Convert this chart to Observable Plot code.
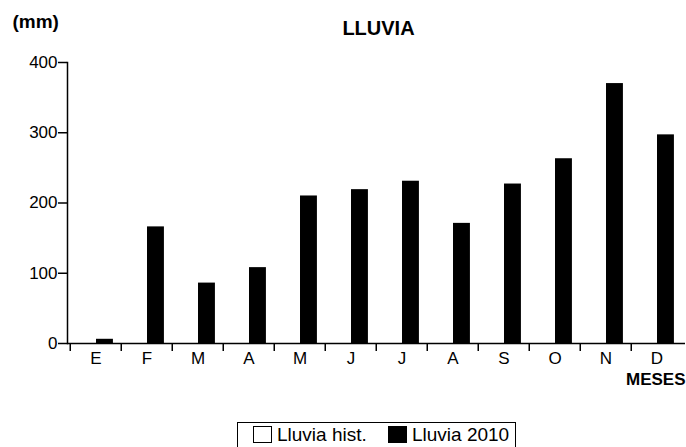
<!DOCTYPE html>
<html>
<head>
<meta charset="utf-8">
<script src="https://cdn.jsdelivr.net/npm/d3@7"></script>
<script src="https://cdn.jsdelivr.net/npm/@observablehq/plot@0.6"></script>
<style>
  html, body { margin: 0; padding: 0; background: #fff; }
  #wrap { position: relative; width: 686px; height: 447px; overflow: hidden; font-family: "Liberation Sans", Arial, sans-serif; }
  #legend { position: absolute; left: 237px; top: 422px; width: 279px; height: 40px; border: 1.5px solid #000; box-sizing: border-box; font-size: 19px; color: #000; }
  .item { position: absolute; top: 2px; white-space: nowrap; line-height: 20px; }
  .sw { display: inline-block; width: 19px; height: 17px; border: 1.3px solid #000; box-sizing: border-box; margin-right: 5px; vertical-align: -2px; }
</style>
</head>
<body>
<div id="wrap"><div id="chart"></div><div id="legend"></div></div>
<script>
const months = ["E","F","M","A","M ","J","J ","A ","S","O","N","D"];
const monthLabels = ["E","F","M","A","M","J","J","A","S","O","N","D"];
const series = ["Lluvia hist.", "Lluvia 2010"];
const seriesColors = ["#ffffff", "#000000"];
const lluviaHist = []; // no historical bars drawn in the reference
const lluvia2010 = [6, 166, 86, 108, 210, 219, 231, 171, 227, 263, 370, 297];
const yTicks = [0, 100, 200, 300, 400];

const W = 686, H = 400, ML = 67, MR = 1, MT = 62, MB = 57;
const band = (W - ML - MR) / months.length;

const data2010 = months.map((m, i) => ({month: m, value: lluvia2010[i], series: series[1]}));

const chart = Plot.plot({
  width: W, height: H,
  marginLeft: ML, marginRight: MR, marginTop: MT, marginBottom: MB,
  style: {fontFamily: "'Liberation Sans', Arial, sans-serif", fontSize: "17px", color: "#000", background: "#fff"},
  x: {domain: months, padding: 0, label: null},
  y: {domain: [0, 400], label: null},
  color: {domain: series, range: seriesColors},
  marks: [
    Plot.barY(data2010, {x: "month", y: "value", fill: "series", insetLeft: band * 0.505, insetRight: band * 0.157}),
    Plot.ruleY([0], {stroke: "#000", strokeWidth: 1.5}),
    Plot.frame({anchor: "left", stroke: "#000", strokeWidth: 1.5}),
    Plot.axisY({ticks: yTicks, tickSize: 9, tickPadding: 1, tickFormat: d => d, stroke: "#000", strokeWidth: 1.5, fontSize: 17}),
    Plot.axisX({tickSize: 8, text: null, dx: -band / 2, stroke: "#000", strokeWidth: 1.5}),
    Plot.axisX({tickSize: 0, tickPadding: 8, tickFormat: (d, i) => monthLabels[i], fontSize: 17}),
    Plot.text(["LLUVIA"], {frameAnchor: "top", lineAnchor: "middle", dx: 2, dy: -34, fontWeight: "bold", fontSize: 20, letterSpacing: "-0.5px"}),
    Plot.text(["(mm)"], {frameAnchor: "top-left", lineAnchor: "middle", textAnchor: "start", dx: -55, dy: -41, fontWeight: "bold", fontSize: 19}),
    Plot.text(["MESES"], {frameAnchor: "bottom-right", lineAnchor: "middle", textAnchor: "end", dy: 36, fontWeight: "bold", fontSize: 17, letterSpacing: "-0.3px"})
  ]
});
document.getElementById("chart").appendChild(chart);

const legend = document.getElementById("legend");
const itemLeft = [15, 150];
series.forEach((s, i) => {
  const item = document.createElement("span");
  item.className = "item";
  item.style.left = itemLeft[i] + "px";
  const sw = document.createElement("span");
  sw.className = "sw";
  sw.style.background = seriesColors[i];
  item.appendChild(sw);
  item.appendChild(document.createTextNode(s));
  legend.appendChild(item);
});
</script>
</body>
</html>
